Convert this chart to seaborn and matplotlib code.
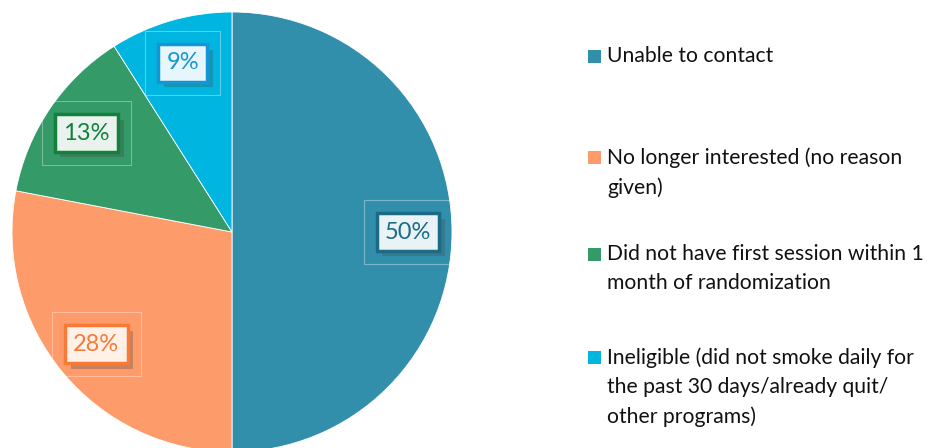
import matplotlib.pyplot as plt
import matplotlib.patheffects as pe
from matplotlib.patches import Rectangle
import seaborn as sns

sns.set_style('white')
plt.rcParams['font.family'] = ['Lato', 'DejaVu Sans']

# datos del grafico
categorias = ['Unable to contact',
              'No longer interested (no reason\ngiven)',
              'Did not have first session within 1\nmonth of randomization',
              'Ineligible (did not smoke daily for\nthe past 30 days/already quit/\nother programs)']
valores = [50, 28, 13, 9]
colores = ['#318fab', '#fe9b6b', '#339a68', '#00b6e0']
# colores de las etiquetas: texto/borde y relleno
color_texto = ['#1c6b86', '#f77a36', '#13803c', '#1596d4']
color_fondo = ['#e9f2f5', '#fff0e8', '#e9f2ec', '#e6f6fc']

fig = plt.figure(figsize=(9.27, 4.48), dpi=100)
ax = fig.add_axes([12/927, -4/448, 440/927, 440/448])

wedges, textos, autotextos = ax.pie(
    valores, colors=colores, startangle=90, counterclock=False,
    autopct='%1.0f%%', pctdistance=0.8,
    wedgeprops=dict(edgecolor='white', linewidth=0.6),
    textprops=dict(fontsize=17))
ax.set_xlim(-1, 1)
ax.set_ylim(-1, 1)
ax.set_aspect('equal')
ax.axis('off')

for i, t in enumerate(autotextos):
    x, y = t.get_position()
    # marco exterior tenue
    ax.text(x, y, t.get_text(), fontsize=17, color='none', ha='center',
            va='center',
            bbox=dict(boxstyle='square,pad=0.9', facecolor='none',
                      edgecolor=(1, 1, 1, 0.35), linewidth=0.8))
    t.set_color(color_texto[i])
    t.set_bbox(dict(boxstyle='square,pad=0.35', facecolor=color_fondo[i],
                    edgecolor=color_texto[i], linewidth=2.5))
    t.get_bbox_patch().set_path_effects(
        [pe.SimplePatchShadow(offset=(4, -4), alpha=0.3), pe.Normal()])

# leyenda manual
y_inicio = [56, 157, 254, 357]
for i, cat in enumerate(categorias):
    yc = y_inicio[i]
    fig.patches.append(Rectangle((588/927, 1 - (yc + 7)/448), 13/927, 13/448,
                                 transform=fig.transFigure,
                                 facecolor=colores[i], edgecolor='none'))
    fig.text(607/927, 1 - (yc - 10)/448, cat, fontsize=15.2, va='top',
             ha='left', color='#111111', linespacing=1.58)

fig.savefig('out.png', dpi=100)
